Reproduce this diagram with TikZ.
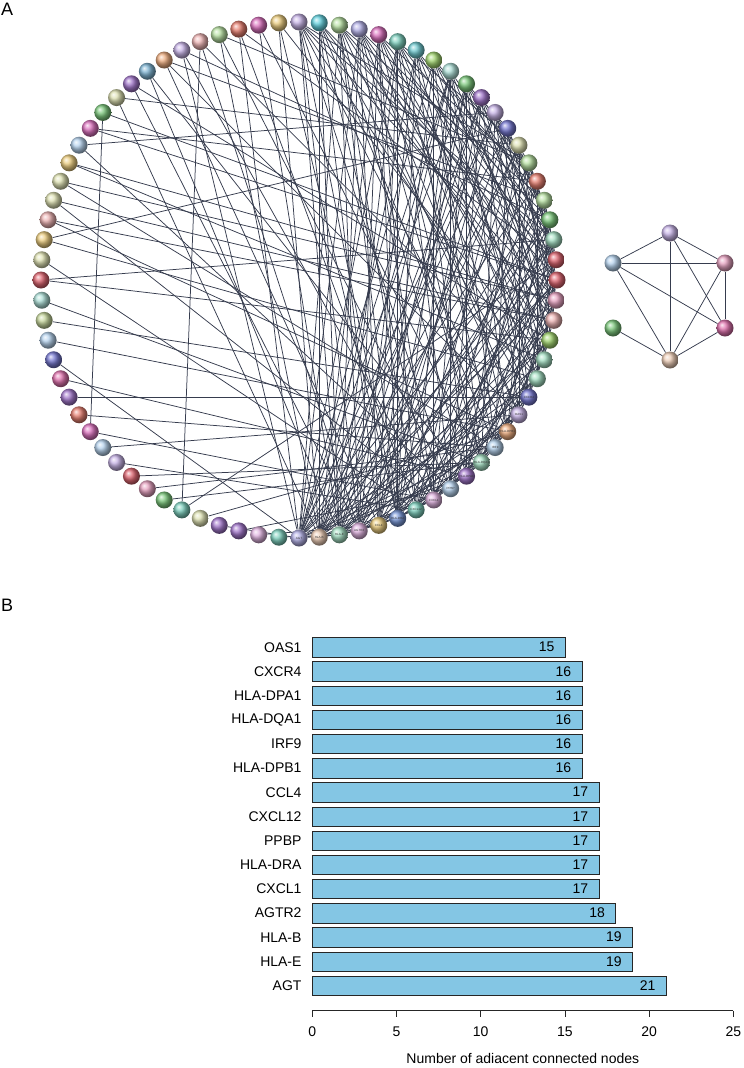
\documentclass[tikz,border=0pt]{standalone}
\usepackage{fontspec}
\setmainfont{Liberation Sans}
\usetikzlibrary{backgrounds}
\definecolor{edgec}{RGB}{54,60,78}
\definecolor{cLav}{HTML}{B9A0E0}
\definecolor{cCyan}{HTML}{3EC6D6}
\definecolor{cLgreen}{HTML}{A6D98C}
\definecolor{cLavblue}{HTML}{A09CE0}
\definecolor{cMagenta}{HTML}{D24FAE}
\definecolor{cTealgreen}{HTML}{5EC4AE}
\definecolor{cTeal}{HTML}{4CBCC4}
\definecolor{cLime}{HTML}{8CCB4E}
\definecolor{cTealL}{HTML}{98D6CC}
\definecolor{cGreen}{HTML}{5DBB5D}
\definecolor{cPurple}{HTML}{8B55BE}
\definecolor{cIndigo}{HTML}{5558C6}
\definecolor{cKhaki}{HTML}{D6DAA0}
\definecolor{cRedor}{HTML}{E0604E}
\definecolor{cMint}{HTML}{8ED7B4}
\definecolor{cRed}{HTML}{D6404E}
\definecolor{cPink}{HTML}{E08AB0}
\definecolor{cSalmon}{HTML}{E8A0A0}
\definecolor{cLblue}{HTML}{A4C8EA}
\definecolor{cPinklav}{HTML}{D8A0D8}
\definecolor{cBlue}{HTML}{5A80D0}
\definecolor{cYellow}{HTML}{E6C060}
\definecolor{cPeach}{HTML}{E8C0A4}
\definecolor{cMagpink}{HTML}{D8509A}
\definecolor{cOlive}{HTML}{B8CC84}
\definecolor{cSteel}{HTML}{5FA2C8}
\definecolor{cOrange}{HTML}{E89860}
\definecolor{barfill}{RGB}{132,198,228}
\begin{document}
\begin{tikzpicture}[x=1pt,y=-1pt,
  gnode/.style={circle,inner sep=0pt,minimum size=17pt},
  net/.style={draw=edgec,line width=0.75pt},
  hublab/.style={font=\fontsize{3}{3}\selectfont,text=black!80,inner sep=0pt},
  barbox/.style={draw=black!85,line width=0.7pt,fill=barfill,minimum height=19.4pt,inner sep=0pt,anchor=north west},
  lab/.style={font=\fontsize{14}{14}\selectfont,inner sep=0pt},
  panel/.style={font=\fontsize{18}{18}\selectfont,inner sep=0pt,anchor=north west}]
\useasboundingbox (0,0) rectangle (744,1068);
\node[panel] (pA) at (1,3) {A};
\node[panel] (pB) at (1,599) {B};
% ring nodes
\foreach \i/\c in {0/cLav,1/cCyan,2/cLgreen,3/cLavblue,4/cMagenta,5/cTealgreen,6/cTeal,7/cLime,8/cTealL,9/cGreen,
 10/cPurple,11/cLav,12/cIndigo,13/cKhaki,14/cLgreen,15/cRedor,16/cLgreen,17/cGreen,18/cMint,19/cRed,
 20/cRed,21/cPink,22/cSalmon,23/cLime,24/cMint,25/cMint,26/cIndigo,27/cLav,28/cOrange,29/cLblue,
 30/cMint,31/cPurple,32/cLblue,33/cPinklav,34/cTealgreen,35/cBlue,36/cYellow,37/cPinklav,38/cMint,39/cPeach,
 40/cLavblue,41/cTealgreen,42/cPinklav,43/cPurple,44/cPurple,45/cKhaki,46/cTealgreen,47/cGreen,48/cPink,49/cRed,
 50/cLav,51/cLblue,52/cMagenta,53/cRedor,54/cPurple,55/cMagpink,56/cIndigo,57/cLblue,58/cOlive,59/cTealL,
 60/cRed,61/cKhaki,62/cYellow,63/cSalmon,64/cKhaki,65/cKhaki,66/cYellow,67/cLblue,68/cMagenta,69/cGreen,
 70/cKhaki,71/cPurple,72/cSteel,73/cOrange,74/cLav,75/cSalmon,76/cLgreen,77/cRedor,78/cMagenta,79/cYellow}{
  \node[gnode,ball color=\c!80!white] (n\i) at ({299+258*cos(90-4.5*\i)},{280-258*sin(90-4.5*\i)}) {};
}
\foreach \i/\t in {40/AGT,39/HLA-B,38/HLA-E,37/AGTR2,36/CCL4,35/HLA-DRA,34/CXCL12,33/CXCL1,32/PPBP,31/HLA-DPA1,30/HLA-DQA1,29/IRF9,28/HLA-DPB1,27/OAS1,26/CXCR4}{
  \node[hublab] (t\i) at (n\i) {\t};
}
% ring edges
\begin{pgfonlayer}{background}
\foreach \a/\l in {
 40/{2,3,5,7,8,9,11,12,15,17,19,21,26,29,31,36,38,44,56,74,77},
 39/{1,4,6,8,10,11,13,16,18,20,23,25,30,33,37,70,76,79},
 38/{0,1,3,5,8,10,13,17,20,22,24,27,32,35,41,72,78},
 37/{0,2,4,6,9,12,14,18,23,28,31,34,71,75},
 36/{1,3,5,7,9,11,16,20,25,27,33,42,73},
 35/{0,2,4,5,6,8,10,13,19,22,29,32,79},
 34/{2,4,8,12,15,18,21,26,30,50,61,77},
 33/{1,3,7,9,14,17,24,28,52,64,74},
 32/{0,5,8,10,16,19,23,27,43,67,76},
 31/{2,6,9,13,15,21,25,29,55,72},
 30/{3,4,7,11,17,20,24,47,49,59,78},
 29/{1,5,8,12,18,22,26,48,53,65},
 28/{0,6,9,14,16,21,45,57,63},
 27/{2,3,10,13,19,23,51,73},
 26/{1,4,8,11,17,22,54,58},
 25/{0,5,7,12,15,20,62,75},
 24/{3,6,9,14,18,66,79},
 23/{2,4,10,11,16,60,71},
 22/{1,5,8,13,17,63,64},
 21/{0,3,7,12,15,65,66},
 20/{2,6,9,11,14,68,69},
 19/{1,4,10,13,16,46,77},
 18/{0,5,7,12,60},
 17/{3,8,11,14,74},
 16/{2,6,9,73},
 15/{4,10,13,68},
 14/{0,7,76},
 13/{5,70},
 12/{9,62},
 11/{67},
 52/{69},
 46/{75}}{
  \foreach \b in \l {\draw[net] (n\a) -- (n\b);}
}
\end{pgfonlayer}
% small network
\node[gnode,ball color=cLav!80!white] (s1) at (670,233) {};
\node[gnode,ball color=cLblue!80!white] (s2) at (613,263) {};
\node[gnode,ball color=cPink!80!white] (s3) at (725,263) {};
\node[gnode,ball color=cGreen!80!white] (s4) at (613,328) {};
\node[gnode,ball color=cMagpink!80!white] (s5) at (725,328) {};
\node[gnode,ball color=cPeach!80!white] (s6) at (670,360) {};
\begin{pgfonlayer}{background}
\foreach \a/\b in {s1/s2,s1/s3,s1/s5,s1/s6,s2/s3,s2/s5,s2/s6,s3/s5,s3/s6,s5/s6,s4/s6}{
  \draw[net] (\a) -- (\b);
}
\end{pgfonlayer}
% bar chart
\foreach \n/\v [count=\k from 0] in {OAS1/15,CXCR4/16,HLA-DPA1/16,HLA-DQA1/16,IRF9/16,HLA-DPB1/16,CCL4/17,CXCL12/17,PPBP/17,HLA-DRA/17,CXCL1/17,AGTR2/18,HLA-B/19,HLA-E/19,AGT/21}{
  \pgfmathsetmacro\yt{637.3+24.17*\k}
  \node[barbox,minimum width={16.84*\v}] (b\k) at (312.3,\yt) {};
  \node[lab,anchor=east] (l\k) at (301.7,{\yt+9.9}) {\n};
  \node[lab,anchor=east] (v\k) at ([xshift=-11pt,yshift=0.3pt]b\k.east) {\v};
}
\draw[line width=0.7pt,draw=black!85] (312.3,1010.7) -- (733.3,1010.7);
\foreach \t in {0,5,...,25}{
  \draw[line width=0.7pt,draw=black!85] ({312.3+16.84*\t},1010.7) -- ++(0,6.5);
  \node[lab] (x\t) at ({312.3+16.84*\t},1031.7) {\t};
}
\node[lab] (xt) at (522.8,1058) {Number of adiacent connected nodes};
\end{tikzpicture}
\end{document}
